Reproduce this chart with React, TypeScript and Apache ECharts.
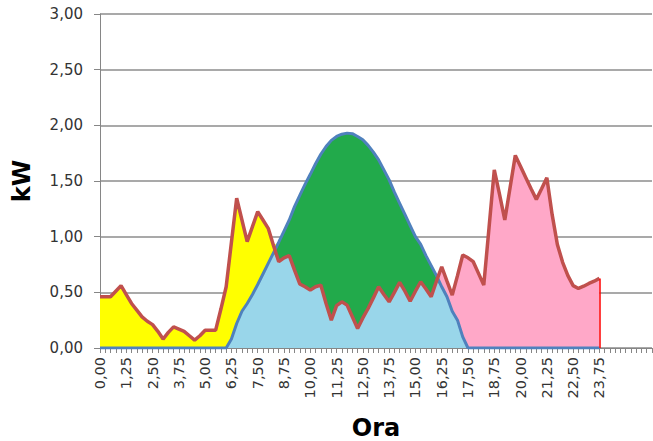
import React, { useEffect, useRef } from "react";
import * as echarts from "echarts";

// Time slots (hours, every 15 minutes) — 96 data slots plus empty slots to the right edge
const slotCount = 106;
const lastDataIndex = 95;
const categories: string[] = Array.from({ length: slotCount }, (_, i) =>
  (i * 0.25).toFixed(2).replace(".", ",")
);

// Consumption (kW) — red line
const consumption: number[] = [
  0.46, 0.46, 0.46, 0.51, 0.56, 0.48, 0.4, 0.34, 0.28, 0.24,
  0.21, 0.15, 0.08, 0.14, 0.19, 0.17, 0.15, 0.11, 0.07, 0.11,
  0.16, 0.16, 0.16, 0.35, 0.55, 0.95, 1.345, 1.15, 0.955, 1.09,
  1.225, 1.15, 1.075, 0.92, 0.775, 0.81, 0.83, 0.7, 0.575, 0.55,
  0.52, 0.55, 0.565, 0.4, 0.25, 0.38, 0.415, 0.385, 0.28, 0.175,
  0.27, 0.355, 0.45, 0.55, 0.48, 0.415, 0.5, 0.59, 0.51, 0.42,
  0.51, 0.595, 0.53, 0.46, 0.6, 0.73, 0.6, 0.475, 0.65, 0.835,
  0.81, 0.775, 0.67, 0.565, 1.08, 1.6, 1.38, 1.15, 1.44, 1.73,
  1.63, 1.53, 1.43, 1.335, 1.43, 1.53, 1.2, 0.93, 0.77, 0.65,
  0.56, 0.535, 0.555, 0.58, 0.6, 0.625,
];

// PV production (kW) — blue line
const production: number[] = [
  0, 0, 0, 0, 0, 0, 0, 0, 0, 0,
  0, 0, 0, 0, 0, 0, 0, 0, 0, 0,
  0, 0, 0, 0, 0, 0.08, 0.22, 0.33, 0.4, 0.48,
  0.57, 0.665, 0.76, 0.855, 0.95, 1.05, 1.15, 1.27, 1.37, 1.47,
  1.56, 1.655, 1.74, 1.81, 1.865, 1.9, 1.92, 1.93, 1.925, 1.9,
  1.87, 1.82, 1.76, 1.69, 1.6, 1.51, 1.4, 1.3, 1.2, 1.1,
  1.0, 0.93, 0.83, 0.74, 0.65, 0.55, 0.46, 0.33, 0.25, 0.1,
  0, 0, 0, 0, 0, 0, 0, 0, 0, 0,
  0, 0, 0, 0, 0, 0, 0, 0, 0, 0,
  0, 0, 0, 0, 0, 0,
];

// Split between morning grid draw (yellow) and evening grid draw (pink)
const middaySplitIndex = 48;

const yTicks = { min: 0, max: 3, interval: 0.5 };

export default function App() {
  const ref = useRef<HTMLDivElement>(null);

  useEffect(() => {
    if (!ref.current) return;
    const chart = echarts.init(ref.current, undefined, { renderer: "svg" });

    const selfUse = consumption.map((c, i) => Math.min(c, production[i]));
    const surplus = consumption.map((c, i) => Math.max(production[i] - c, 0));
    const morningGrid = consumption.map((c, i) =>
      i < middaySplitIndex ? Math.max(c - production[i], 0) : 0
    );
    const eveningGrid = consumption.map((c, i) =>
      i >= middaySplitIndex ? Math.max(c - production[i], 0) : 0
    );

    const area = (name: string, data: number[], color: string, extra: any = {}) => ({
      name,
      type: "line",
      stack: "total",
      data,
      symbol: "none",
      lineStyle: { width: 0 },
      areaStyle: { color, opacity: 1 },
      itemStyle: { color },
      silent: true,
      z: 1,
      ...extra,
    });

    const font = "DejaVu Sans";

    chart.setOption({
      animation: false,
      grid: {
        left: 100,
        top: 14,
        right: 1,
        bottom: 93,
        containLabel: false,
        outerBoundsMode: "none",
      },
      xAxis: {
        type: "category",
        data: categories,
        boundaryGap: false,
        name: "Ora",
        nameLocation: "middle",
        nameGap: 68,
        nameTextStyle: { fontFamily: font, fontSize: 24, fontWeight: "bold", color: "#000" },
        axisLine: { lineStyle: { color: "#868686", width: 1 } },
        axisTick: { interval: 0, length: 5, lineStyle: { color: "#868686" } },
        axisLabel: {
          interval: 4,
          rotate: 90,
          fontFamily: font,
          fontSize: 14.5,
          color: "#333",
          margin: 9,
          formatter: (v: string, idx: number) => (idx <= lastDataIndex ? v : ""),
        },
        splitLine: { show: false },
      },
      yAxis: {
        type: "value",
        min: yTicks.min,
        max: yTicks.max,
        interval: yTicks.interval,
        name: "kW",
        nameLocation: "middle",
        nameGap: 66,
        nameRotate: 90,
        nameTextStyle: { fontFamily: font, fontSize: 24, fontWeight: "bold", color: "#000" },
        axisLine: { show: true, lineStyle: { color: "#868686", width: 1 } },
        axisTick: { show: true, length: 6, lineStyle: { color: "#868686" } },
        axisLabel: {
          fontFamily: font,
          fontSize: 15,
          color: "#333",
          margin: 17,
          formatter: (v: number) => v.toFixed(2).replace(".", ","),
        },
        splitLine: { lineStyle: { color: "#8c8c8c", width: 1.5 } },
      },
      series: [
        area("Autoconsumo", selfUse, "#99D6EA"),
        area("Immissione", surplus, "#22AA4B"),
        area("Prelievo mattina", morningGrid, "#FFFF00"),
        area("Prelievo sera", eveningGrid, "#FFA8C8", {
          markLine: {
            silent: true,
            symbol: "none",
            label: { show: false },
            lineStyle: { color: "#FF0000", width: 1.5, type: "solid" },
            data: [
              [
                { coord: [categories[lastDataIndex], 0] },
                { coord: [categories[lastDataIndex], consumption[lastDataIndex]] },
              ],
            ],
          },
        }),
        {
          name: "Produzione",
          type: "line",
          data: production,
          symbol: "none",
          lineStyle: { color: "#4F81BD", width: 3 },
          itemStyle: { color: "#4F81BD" },
          z: 3,
        },
        {
          name: "Consumo",
          type: "line",
          data: consumption,
          symbol: "none",
          lineStyle: { color: "#C0504D", width: 3.5 },
          itemStyle: { color: "#C0504D" },
          z: 4,
        },
      ],
    });

    return () => chart.dispose();
  }, []);

  return <div ref={ref} style={{ width: 653, height: 441, position: "absolute", left: 0, top: 0 }} />;
}
